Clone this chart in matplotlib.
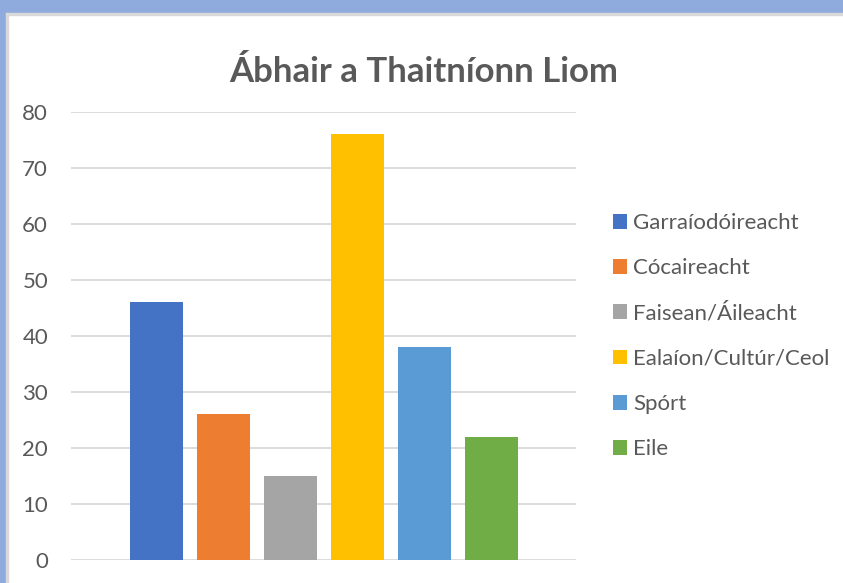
import matplotlib.pyplot as plt
from matplotlib.patches import Rectangle

categories = ["Garraíodóireacht", "Cócaireacht", "Faisean/Áileacht",
              "Ealaíon/Cultúr/Ceol", "Spórt", "Eile"]
values = [46, 26, 15, 76, 38, 22]
colors = ["#4472C4", "#ED7D31", "#A5A5A5", "#FFC000", "#5B9BD5", "#70AD47"]
yticks = [0, 10, 20, 30, 40, 50, 60, 70, 80]

W, H = 843, 583
plt.rcParams["font.family"] = ["Lato", "DejaVu Sans"]
fig = plt.figure(figsize=(W / 100, H / 100), dpi=100)

# frame pieces (window border look)
fig.patches.append(Rectangle((0, 1 - 13 / H), 1, 13 / H, transform=fig.transFigure,
                             color="#8FAADC", zorder=0))
fig.patches.append(Rectangle((0, 0), 6 / W, 1, transform=fig.transFigure,
                             color="#8FAADC", zorder=0))
fig.patches.append(Rectangle((6 / W, 0), 2 / W, 1 - 13 / H, transform=fig.transFigure,
                             color="#D9D9D9", zorder=0))
fig.patches.append(Rectangle((6 / W, 1 - 15 / H), 1, 2 / H, transform=fig.transFigure,
                             color="#D9D9D9", zorder=0))

ax = fig.add_axes([71 / W, 23 / H, 505 / W, 448 / H])
x = list(range(len(values)))
bars = ax.bar(x, values, width=53 / 67, color=colors, zorder=3)
ax.set_xlim(2.5 - 505 / 67 / 2, 2.5 + 505 / 67 / 2)
ax.set_ylim(0, 80)
ax.set_yticks(yticks)
ax.set_xticks([])
ax.grid(axis="y", color="#D9D9D9", linewidth=1.3, zorder=0)
for s in ax.spines.values():
    s.set_visible(False)
ax.tick_params(axis="y", length=0, pad=16.5, labelsize=16, labelcolor="#595959")

fig.text(424 / W, 1 - 72 / H, "Ábhair a Thaitníonn Liom", ha="center", va="center",
         fontsize=25, fontweight="bold", color="#595959")

fig.legend(bars, categories, loc="center left", bbox_to_anchor=(613 / W, 1 - 336 / H),
           frameon=False, fontsize=16, labelcolor="#595959", handlelength=0.65,
           handleheight=0.65, handletextpad=0.25, labelspacing=1.13, borderpad=0,
           borderaxespad=0)

fig.savefig("out.png", dpi=100)
